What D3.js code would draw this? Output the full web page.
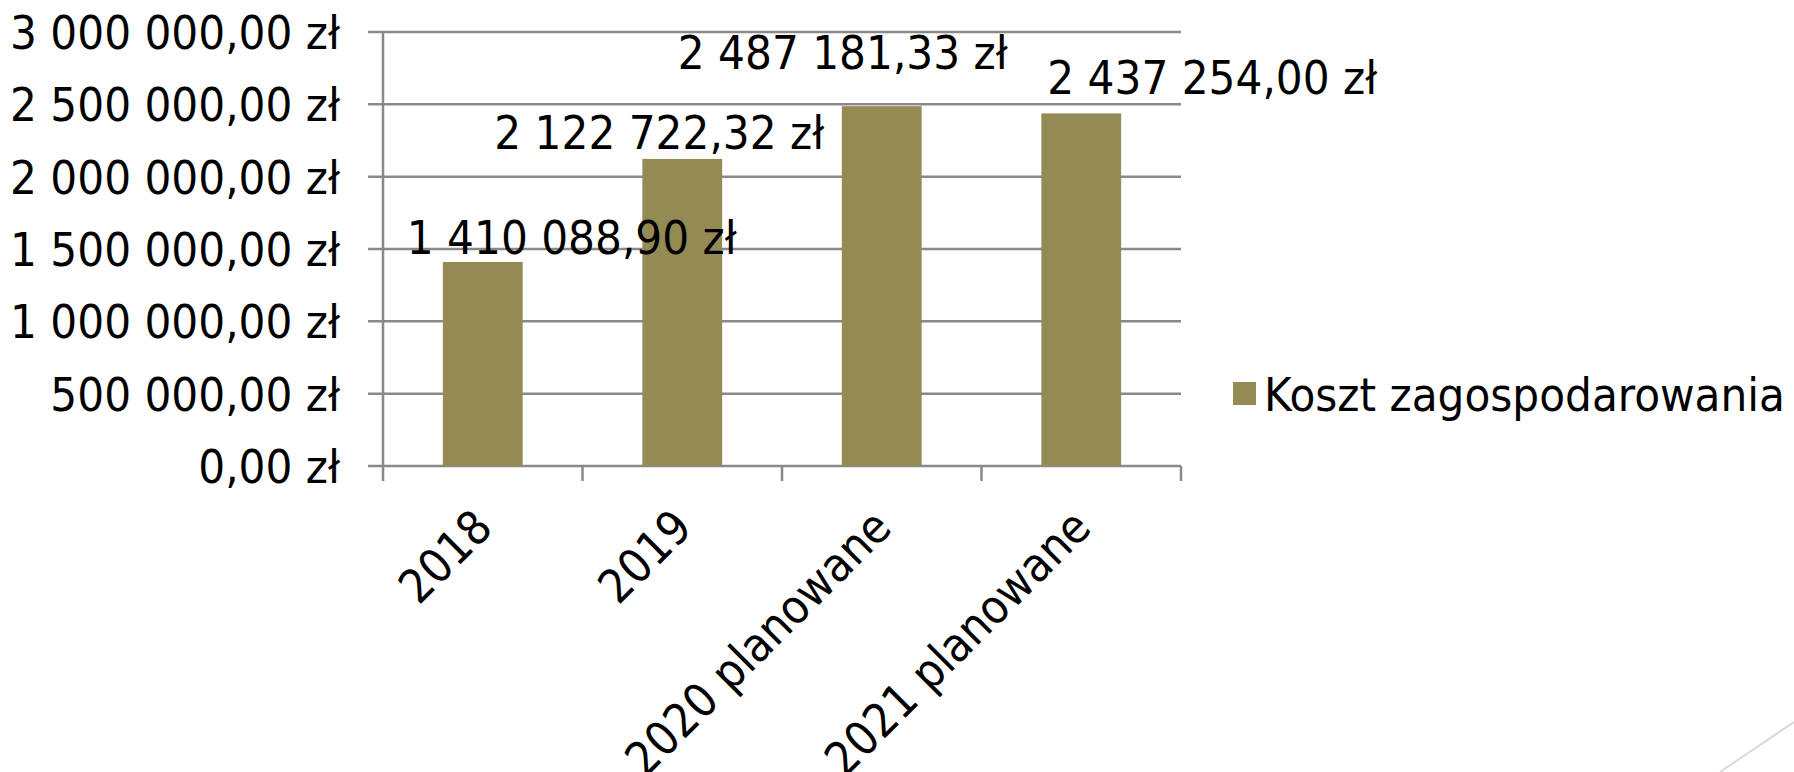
<!DOCTYPE html>
<html>
<head>
<meta charset="utf-8">
<script src="https://cdn.jsdelivr.net/npm/d3@7/dist/d3.min.js"></script>
<style>
  body { margin: 0; background: #fff; }
  svg text { font-family: "Liberation Sans Narrow", "DejaVu Sans Condensed", sans-serif; fill: #000; }
</style>
</head>
<body>
<div id="chart"></div>
<script>
// chart data
const categories = ['2018', '2019', '2020 planowane', '2021 planowane'];
const values = [1410088.90, 2122722.32, 2487181.33, 2437254.00];
const valueLabels = ['1 410 088,90 zł', '2 122 722,32 zł', '2 487 181,33 zł', '2 437 254,00 zł'];
const yTicks = [0, 500000, 1000000, 1500000, 2000000, 2500000, 3000000];
const yTickLabels = ['0,00 zł', '500 000,00 zł', '1 000 000,00 zł', '1 500 000,00 zł',
  '2 000 000,00 zł', '2 500 000,00 zł', '3 000 000,00 zł'];
const seriesName = 'Koszt zagospodarowania';

// label nudges (the labels were dragged around in the original)
const labelShift = [[89, -8], [-23, -10], [-39, -37], [131, -19]];

const config = {
  width: 1794, height: 772,
  left: 383, right: 1181, top: 32, bottom: 466,
  barColor: '#948a54', gridColor: '#898989', fontSize: 47
};

const svg = d3.select('#chart').append('svg')
    .attr('width', config.width)
    .attr('height', config.height);

const x = d3.scaleBand()
    .domain(categories)
    .range([config.left, config.right])
    .padding(0);

const y = d3.scaleLinear()
    .domain([0, 3000000])
    .range([config.bottom, config.top]);

const barW = x.bandwidth() * 0.4;

// gridlines
svg.append('g')
  .selectAll('line')
  .data(yTicks)
  .join('line')
    .attr('x1', config.left - 15)
    .attr('x2', config.right)
    .attr('y1', d => y(d))
    .attr('y2', d => y(d))
    .attr('stroke', config.gridColor)
    .attr('stroke-width', 2.5);

// y axis line
svg.append('line')
    .attr('x1', config.left).attr('x2', config.left)
    .attr('y1', config.top).attr('y2', config.bottom)
    .attr('stroke', config.gridColor)
    .attr('stroke-width', 2.5);

// x ticks at category boundaries
const bounds = categories.map(c => x(c)).concat([config.right]);
svg.append('g')
  .selectAll('line')
  .data(bounds)
  .join('line')
    .attr('x1', d => d).attr('x2', d => d)
    .attr('y1', config.bottom).attr('y2', config.bottom + 15)
    .attr('stroke', config.gridColor)
    .attr('stroke-width', 2.5);

// y tick labels
svg.append('g')
  .selectAll('text')
  .data(yTicks)
  .join('text')
    .attr('x', config.left - 43)
    .attr('y', d => y(d))
    .attr('dy', '0.36em')
    .attr('text-anchor', 'end')
    .attr('font-size', config.fontSize)
    .text((d, i) => yTickLabels[i]);

// bars
svg.append('g')
  .selectAll('rect')
  .data(values)
  .join('rect')
    .attr('x', (d, i) => x(categories[i]) + (x.bandwidth() - barW) / 2)
    .attr('y', d => y(d))
    .attr('width', barW)
    .attr('height', d => y(0) - y(d))
    .attr('fill', config.barColor);

// value labels
svg.append('g')
  .selectAll('text')
  .data(values)
  .join('text')
    .attr('x', (d, i) => x(categories[i]) + x.bandwidth() / 2 + labelShift[i][0])
    .attr('y', (d, i) => y(d) + labelShift[i][1])
    .attr('text-anchor', 'middle')
    .attr('font-size', config.fontSize)
    .text((d, i) => valueLabels[i]);

// category labels, rotated
svg.append('g')
  .selectAll('text')
  .data(categories)
  .join('text')
    .attr('transform', d => `translate(${x(d) + x.bandwidth() / 2 + 12},530) rotate(-45)`)
    .attr('text-anchor', 'end')
    .attr('font-size', config.fontSize)
    .text(d => d);

// legend
const legend = svg.append('g')
    .attr('transform', `translate(1233,382)`);
legend.append('rect')
    .attr('width', 23).attr('height', 23)
    .attr('fill', config.barColor);
legend.append('text')
    .attr('x', 31).attr('y', 12)
    .attr('dy', '0.36em')
    .attr('font-size', config.fontSize)
    .text(seriesName);

// slide decoration line in the corner
svg.append('line')
    .attr('x1', 1794).attr('y1', 722)
    .attr('x2', 1720).attr('y2', 772)
    .attr('stroke', '#d9d9d9')
    .attr('stroke-width', 2);
</script>
</body>
</html>
